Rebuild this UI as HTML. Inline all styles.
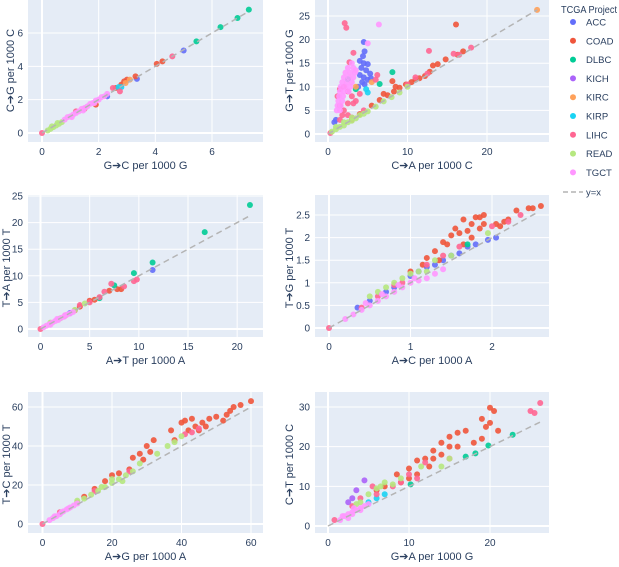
<!DOCTYPE html>
<html><head><meta charset="utf-8">
<style>
body{margin:0;background:#fff;width:619px;height:562px;overflow:hidden;font-family:"Liberation Sans",sans-serif;}
svg text{font-family:"Liberation Sans",sans-serif;fill:#2a3f5f;}
</style></head>
<body>
<svg id="chart" width="619" height="562" viewBox="0 0 619 562" xmlns="http://www.w3.org/2000/svg"></svg>
<script>
const projects = ["ACC","COAD","DLBC","KICH","KIRC","KIRP","LIHC","READ","TGCT"];
const colors = ["#636efa","#EF553B","#00cc96","#ab63fa","#FFA15A","#19d3f3","#FF6692","#B6E880","#FF97FF"];

const p1 = {
ACC:[[3.35,3.25],[5.0,4.95],[2.3,2.2]],
COAD:[[1.9,1.7],[2.8,2.9],[3.0,3.2],[3.3,3.4],[4.05,4.15],[4.25,4.3],[2.6,2.7],[2.9,3.1]],
DLBC:[[5.45,5.5],[6.3,6.35],[6.9,6.9],[7.3,7.4]],
KIRC:[[2.95,3.0],[3.1,3.2]],
KIRP:[[2.7,2.75],[2.8,2.75]],
LIHC:[[0,0],[2.75,2.5],[4.6,4.6],[1.5,1.45],[2.5,2.7],[1.2,1.3]],
READ:[[0.2,0.15],[0.3,0.25],[0.4,0.35],[0.5,0.45],[0.6,0.55],[0.7,0.65],[0.35,0.4],[0.55,0.6]],
TGCT:[[0.8,0.8],[0.9,0.95],[1.0,1.0],[1.1,1.1],[1.2,1.2],[1.3,1.3],[1.4,1.45],[1.5,1.5],[1.6,1.6],[1.7,1.75],[1.8,1.8],[1.9,1.95],[2.0,2.0],[2.1,2.15],[2.2,2.2],[2.3,2.35],[1.05,0.95],[1.45,1.35],[1.85,1.8]]
};
const p2 = {
ACC:[[4.5,19.5],[4.6,17.5],[4.4,16.5],[4.0,15.5],[4.5,15],[5.0,14.8],[4.2,14],[4.8,13.5],[5.3,12.8],[4.0,12.5],[4.5,12],[5.0,11.5],[5.4,11.8],[4.3,11],[3.8,10],[4.6,10.5],[0.8,2.5],[1.0,3]],
COAD:[[16.1,23.2],[5.5,6],[6.5,7.2],[7.5,8.2],[8.3,9],[9,9.8],[9.8,10.5],[10.5,11],[11,11.5],[11.5,11.8],[12.2,12.3],[12.8,13.2],[13.2,14.5],[13.8,14.8],[14.8,15.8],[16.3,16.8],[17,17.5],[8.1,11.2],[8.5,10],[7,8.5],[3,3],[4,4.2]],
DLBC:[[8.1,13.1],[6.5,10.6],[2.5,11.6],[3.5,9.5]],
KIRC:[[26.3,26.3],[5.5,11],[3.5,10]],
KIRP:[[5,8.8],[4.8,9.5]],
LIHC:[[2.1,23.5],[2.3,22.5],[3.2,17.2],[2.7,15.2],[12.7,17.6],[15.8,17],[16.5,16.8],[18,18.3],[6.2,12.5],[6,11.5],[1.2,8],[1.5,9.5],[2,10],[2.5,9],[3,8],[3.5,7],[1.5,6],[2,5],[2.5,4],[3,3.5],[1.5,3],[2.5,6.5],[3.2,6.5],[1.8,4],[4,8.5],[11,12],[12.5,12.8],[10,10.5],[4.5,5],[0.3,0.2]],
READ:[[0.5,0.5],[1,1],[1.5,1.5],[2,1.8],[2.5,2.5],[3,2.8],[3.5,3.3],[4,4],[4.5,4.3],[5,4.8],[6,5.8],[7,6.9],[8,7.8],[9,8.8],[10,10],[1,1.5],[2,2.5],[3,3.5]],
TGCT:[[6.4,23.2],[5,19.2],[3,15],[2.5,14],[3.2,14],[2.2,13],[2.8,13],[3.4,13],[2,12],[2.6,12],[3.2,12],[1.8,11],[2.4,11],[3,11],[1.6,10],[2.2,10],[2.8,10],[1.5,9],[2,9],[2.6,9],[1.4,8],[1.9,8],[1.3,7],[1.8,7],[1.2,6],[1.6,6],[1.1,5],[1.5,5],[3.5,13.5]]
};
const p3 = {
ACC:[[11.4,11.1],[3,3]],
COAD:[[5.5,5.5],[7.8,7.5],[8.2,7.5],[7,7.2],[4,4.2],[5,5.3]],
DLBC:[[21.3,23.3],[16.7,18.2],[11.4,12.5],[9.5,10.5],[7.5,8.2],[6,5.8]],
LIHC:[[0,0],[9.5,9],[9.8,9.3],[7.2,8.5],[6.5,7],[5,5],[4,4.5],[3.5,3.5],[2.5,2.5],[6,6],[8.5,8]],
READ:[[1,1.2],[2,2],[3.5,3.6],[4.5,4.8]],
TGCT:[[0.3,0.3],[0.6,0.6],[0.9,0.9],[1.2,1.2],[1.5,1.5],[1.8,1.7],[2.1,2.1],[2.4,2.3],[2.7,2.7],[3,2.9],[3.3,3.2],[1,0.8],[1.7,1.9],[2.5,2.6]]
};
const p4 = {
ACC:[[2.05,2.0],[1.95,1.95],[1.8,1.85],[1.7,1.8],[1.6,1.65],[1.5,1.6],[1.4,1.5],[1.3,1.4],[1.2,1.35],[1.1,1.25],[1.0,1.15],[0.8,0.9],[0.7,0.8],[0.5,0.6],[0.35,0.45]],
COAD:[[2.6,2.7],[2.45,2.65],[2.5,2.65],[2.3,2.6],[1.85,2.45],[1.9,2.5],[1.8,2.45],[1.75,2.3],[1.65,2.4],[1.5,2.05],[1.55,2.2],[1.6,2.1],[1.7,2.15],[1.75,2.0],[1.85,2.2],[1.9,2.3],[2.05,2.3],[2.1,2.25],[2.15,2.35],[2.2,2.4],[1.3,1.7],[1.45,1.85],[1.2,1.55],[1.35,1.5],[1.4,1.9],[1.65,1.85],[1.15,1.4],[1.0,1.25]],
DLBC:[[1.7,1.85]],
LIHC:[[0,0],[2.35,2.5],[2.2,2.35],[2.0,2.25],[1.6,1.8],[1.4,1.6],[1.2,1.4],[0.9,1.0],[0.8,0.95],[0.6,0.7],[0.4,0.45]],
READ:[[1.0,1.2],[1.1,1.25],[1.2,1.25],[1.3,1.5],[0.9,1.1],[0.8,1.0],[0.7,0.9],[0.6,0.8],[0.5,0.7],[1.5,1.6],[1.95,2.1]],
TGCT:[[0.2,0.2],[0.3,0.3],[0.4,0.4],[0.5,0.5],[0.6,0.6],[0.7,0.7],[0.8,0.8],[0.9,0.9],[1.0,1.0],[1.1,1.05],[1.2,1.1],[1.3,1.2],[1.4,1.3],[0.45,0.55],[0.65,0.75],[0.85,0.95],[1.05,1.1]]
};
const p5 = {
COAD:[[60,63],[57,61],[55,60],[54,58],[53,56],[50,55],[48,54],[46,52],[44,50],[42,48],[43,54],[41,53],[40,52],[37,48],[32,43],[30,40],[31,37],[28,36],[26,34],[29,33],[25,28],[22,26],[20,25],[18,22],[15,18],[12,14],[45,48],[47,50],[52,53],[38,43]],
LIHC:[[0,0],[41,46],[43,47],[45,49],[5,6],[10,11],[15,17],[25,27]],
READ:[[10,12],[12,13],[14,15],[16,17],[18,19],[20,21],[22,23],[24,25],[26,27],[20,23],[17,19],[23,22],[28,31],[33,36],[36,40],[38,42],[40,45]],
TGCT:[[2,2],[3,3],[4,4],[5,5],[6,6.5],[7,7.5],[8,8.5],[9,9.5],[10,10.5],[3.5,4],[5.5,6],[7.5,8]]
};
const p6 = {
COAD:[[20,29.8],[20.5,29],[20,26],[21,24],[19,27],[19.5,25],[17,24],[16,23.5],[15,22.5],[14,21],[13,19],[12,17],[11,16.5],[10,14.5],[8.5,13],[9,11],[11,13],[12.5,15],[14,18],[15,20],[18,21],[19,22],[16,20],[13,17],[10,12],[7,10],[6,9]],
DLBC:[[22.8,23],[19.8,20.3],[18.2,18.3],[17,17.5],[10.2,10.5]],
KICH:[[4.5,11.5],[3.5,9],[3,7],[2.5,6]],
KIRP:[[7,8],[6,7],[5,6]],
LIHC:[[26.2,31],[25.5,28.5],[25,29],[0.8,1.5],[10,13],[11,12],[9,11],[8,10],[6,8],[5.5,10],[4,7],[3,5],[12,16],[15,17]],
READ:[[7,11],[6.5,10],[6,9.5],[5,8],[4,6],[3.5,5.5],[11.5,15],[15,17],[14,15],[9,12],[8,10.5]],
TGCT:[[1.5,1.5],[2,2.5],[2.5,3],[3,3.5],[3.5,4],[4,4.5],[4.5,5],[5,5.5],[2.5,2],[3,3],[4,4],[1.8,2.5],[3.2,4.5]]
};

const xticks1=[0,2,4,6], yticks1=[0,2,4,6];
const xticks2=[0,10,20], yticks2=[0,5,10,15,20,25];
const xticks3=[0,5,10,15,20], yticks3=[0,5,10,15,20,25];
const xticks4=[0,1,2], yticks4=[0,0.5,1,1.5,2,2.5];
const xticks5=[0,20,40,60], yticks5=[0,20,40,60];
const xticks6=[0,10,20], yticks6=[0,10,20,30];
const diag1=[0,7.3], diag2=[0,26.3], diag3=[0,21.3], diag4=[0,2.55], diag5=[0,60], diag6=[0,26.3];

const panels=[
 {name:"gc-vs-cg",data:p1,xt:xticks1,yt:yticks1,d:diag1,box:[28,263,-5,142],xm:[0,42,6,212],ym:[0,133,6,33],xl:"G➔C per 1000 G",yl:"C➔G per 1000 C",ylx:10},
 {name:"ca-vs-gt",data:p2,xt:xticks2,yt:yticks2,d:diag2,box:[315,549,-5,142],xm:[0,328,20,487],ym:[0,134,25,16],xl:"C➔A per 1000 C",yl:"G➔T per 1000 G",ylx:289},
 {name:"at-vs-ta",data:p3,xt:xticks3,yt:yticks3,d:diag3,box:[28,263,195,337],xm:[0,40.5,15,188],ym:[0,329,25,196],xl:"A➔T per 1000 A",yl:"T➔A per 1000 T",ylx:6},
 {name:"ac-vs-tg",data:p4,xt:xticks4,yt:yticks4,d:diag4,box:[315,549,195,337],xm:[0,329,2,492],ym:[0,328,2.5,215],xl:"A➔C per 1000 A",yl:"T➔G per 1000 T",ylx:289},
 {name:"ag-vs-tc",data:p5,xt:xticks5,yt:yticks5,d:diag5,box:[28,263,392,533],xm:[0,42.5,60,251],ym:[0,524,60,407],xl:"A➔G per 1000 A",yl:"T➔C per 1000 T",ylx:6},
 {name:"ga-vs-ct",data:p6,xt:xticks6,yt:yticks6,d:diag6,box:[315,549,392,533],xm:[0,328,20,490],ym:[0,526,30,407],xl:"G➔A per 1000 G",yl:"C➔T per 1000 C",ylx:289}
];
const NS="http://www.w3.org/2000/svg";
const svg=document.getElementById('chart');
function mk(tag,attrs,parent){const e=document.createElementNS(NS,tag);for(const k in attrs)e.setAttribute(k,attrs[k]);(parent||svg).appendChild(e);return e;}
function lin(m){return v=>m[1]+(v-m[0])*(m[3]-m[1])/(m[2]-m[0]);}

panels.forEach(p=>{
  const g=mk('g',{});
  
  
  const [x0,x1,y0,y1]=p.box, sx=lin(p.xm), sy=lin(p.ym);
  const bg=mk('rect',{x:x0,y:y0,width:x1-x0,height:y1-y0,fill:'#E5ECF6'},g);
  
  
  p.xt.forEach(t=>{
    const x=sx(t);
    mk('line',{x1:x,x2:x,y1:y0,y2:y1,stroke:'#fff','stroke-width':t===0?2:1},g);
    const tx=mk('text',{x:x,y:y1+13,'font-size':10,'text-anchor':'middle'},g);
    tx.textContent=t;
    
    
  });
  p.yt.forEach(t=>{
    const y=sy(t);
    mk('line',{x1:x0,x2:x1,y1:y,y2:y,stroke:'#fff','stroke-width':t===0?2:1},g);
    const tx=mk('text',{x:x0-5,y:y+3.5,'font-size':10,'text-anchor':'end'},g);
    tx.textContent=t;
    
    
  });
  const xl=mk('text',{x:(x0+x1)/2,y:y1+27,'font-size':11,'text-anchor':'middle'},g);
  xl.textContent=p.xl;
  
  
  const yc=(y0+y1)/2+2, ylx=p.ylx+4;
  const yl=mk('text',{x:ylx,y:yc,'font-size':11,'text-anchor':'middle',transform:`rotate(-90 ${ylx} ${yc})`},g);
  yl.textContent=p.yl;
  
  
  const cg=mk('g',{},g);
  projects.forEach((pr,i)=>{
    (p.data[pr]||[]).forEach(pt=>{
      const c=mk('circle',{cx:sx(pt[0]),cy:sy(pt[1]),r:3,fill:colors[i],'fill-opacity':0.9},cg);
      
      
    });
  });
  const dl=mk('line',{x1:sx(p.d[0]),y1:sy(p.d[0]),x2:sx(p.d[1]),y2:sy(p.d[1]),stroke:'#b4b4b4','stroke-width':1.5,'stroke-dasharray':'6,4'},g);
  
  
});

const lg=mk('g',{});


const lt=mk('text',{x:561,y:13,'font-size':10.5,textLength:56,lengthAdjust:'spacingAndGlyphs'},lg);
lt.textContent='TCGA Project';


projects.forEach((pr,i)=>{
  const y=22+i*18.8;
  const eg=mk('g',{},lg);
  
  
  mk('circle',{cx:573,cy:y,r:3,fill:colors[i]},eg);
  const t=mk('text',{x:586,y:y+3.5,'font-size':9.5},eg);
  t.textContent=pr;
});
const eg=mk('g',{},lg);


mk('line',{x1:563,x2:583,y1:192,y2:192,stroke:'#b4b4b4','stroke-width':1.5,'stroke-dasharray':'5,3'},eg);
const yt=mk('text',{x:586,y:195.5,'font-size':9.5},eg);
yt.textContent='y=x';
</script>
</body></html>
